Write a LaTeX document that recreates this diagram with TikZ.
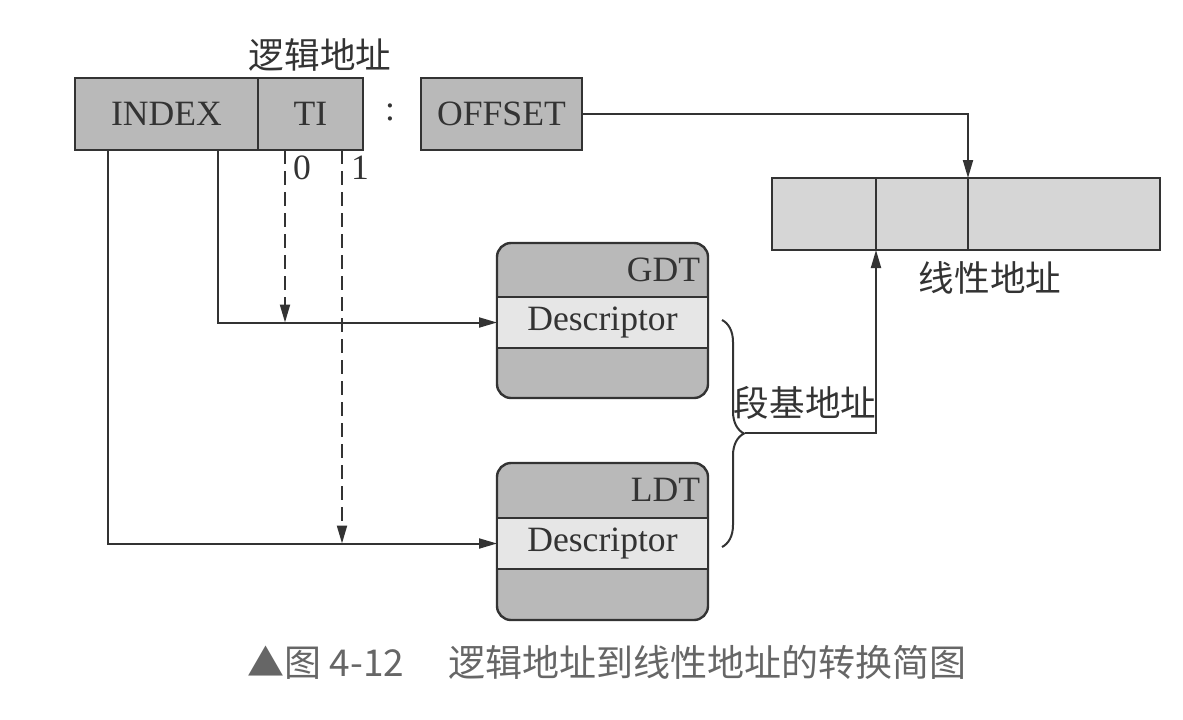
\documentclass[tikz,border=0pt]{standalone}
\usepackage{fontspec}
\setmainfont{Liberation Serif}
\newfontfamily\cjk{Noto Sans CJK SC}
\usetikzlibrary{arrows.meta,decorations.pathreplacing}

\definecolor{boxgray}{HTML}{B9B9B9}
\definecolor{rowgray}{HTML}{E6E6E6}
\definecolor{lingray}{HTML}{D6D6D6}
\definecolor{inkgray}{HTML}{333333}
\definecolor{capgray}{HTML}{666666}

\begin{document}
\begin{tikzpicture}[x=0.5pt, y=-0.5pt, line width=1pt, draw=inkgray, >={Triangle[length=9pt,width=5pt]},
  every node/.style={inner sep=0pt, outer sep=0pt, text=inkgray, font=\fontsize{17.8}{20}\selectfont},
  cell/.style={draw=inkgray, line width=1.2pt, fill=boxgray, minimum height=36pt},
  table/.style={draw=inkgray, line width=1.2pt, fill=boxgray, rounded corners=7pt, minimum width=105.5pt},
  row/.style={draw=inkgray, line width=1.2pt, fill=rowgray, minimum width=105.5pt, minimum height=25.5pt},
  lincell/.style={draw=inkgray, line width=1.2pt, fill=lingray, minimum height=36pt}]

\useasboundingbox (0,0) rectangle (1183,719);

% Logical address: selector and offset
\node[cell, minimum width=91.5pt] (index) at (166.5,114) {INDEX};
\node[cell, minimum width=52.5pt] (ti) at (310.5,114) {TI};
\node (colon) at (390,112) {:};
\node[cell, minimum width=80.5pt] (offset) at (501.5,114) {OFFSET};
\node (logic) at (320,55) {\cjk 逻辑地址};

% Descriptor tables
\node[table, minimum height=77.5pt] (gdt) at (602.5,320.5) {};
\node[row] (gdtd) at (602.5,322.5) {Descriptor};
\node[anchor=east] (gdtname) at (700,270) {GDT};

\node[table, minimum height=78.5pt] (ldt) at (602.5,541.5) {};
\node[row] (ldtd) at (602.5,543.5) {Descriptor};
\node[anchor=east] (ldtname) at (700,490) {LDT};

% Linear address
\node[lincell, minimum width=52pt] (lin1) at (824,214) {};
\node[lincell, minimum width=46pt] (lin2) at (922,214) {};
\node[lincell, minimum width=96pt] (lin3) at (1064,214) {};
\node (linear) at (990,278) {\cjk 线性地址};

% Segment base
\coordinate (bt) at (722,320);
\coordinate (bb) at (722,547);
\coordinate (btip) at (745,433);
\node (base) at (805,403) {\cjk 段基地址};

% INDEX selects a descriptor
\draw[->] ([xshift=16.5pt]index.south west) |- (ldtd.west);
\draw[->] ([xshift=71.5pt]index.south west) |- (gdtd.west);

% TI selects the table
\draw[dashed, dash pattern=on 7pt off 3.5pt, ->] ([xshift=13.5pt]ti.south west) -- ([xshift=13.5pt]ti.south west |- gdtd.west);
\draw[dashed, dash pattern=on 7pt off 3.5pt, ->] ([xshift=42pt]ti.south west) -- ([xshift=42pt]ti.south west |- ldtd.west);
\node[anchor=west] (ti0) at (293,168) {0};
\node[anchor=west] (ti1) at (351,168) {1};

% Base and offset give the linear address
\draw[decorate, decoration={brace, amplitude=11pt}] (bt) -- (bb);
\draw[->] (btip) -| (lin2.south west);
\draw[->] (offset.east) -| (lin3.north west);

% Caption
\node[text=capgray, font=\cjk\fontsize{18.5}{22}\selectfont] (caption) at (607,662) {▲图 4-12\hspace{1.2em}逻辑地址到线性地址的转换简图};

\end{tikzpicture}
\end{document}
